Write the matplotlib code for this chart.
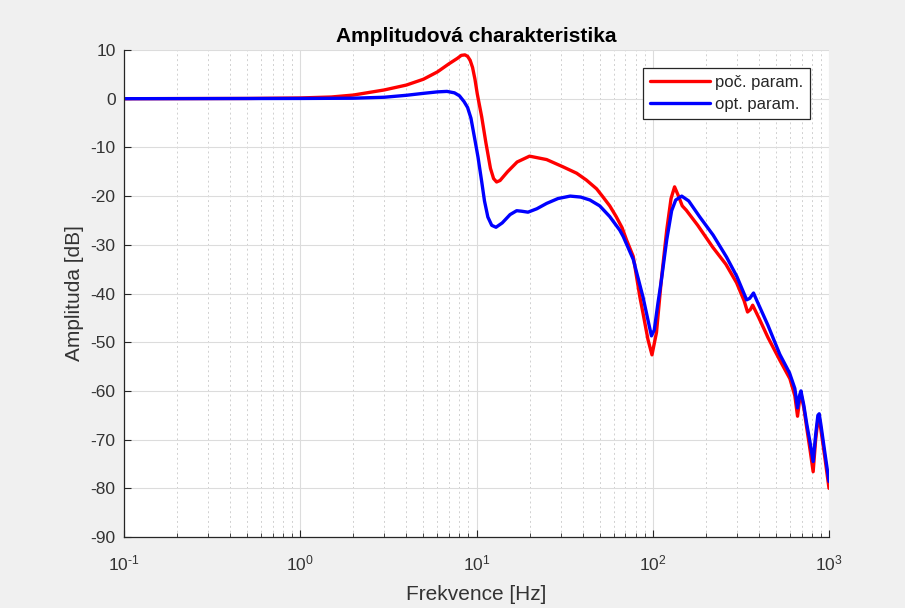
import matplotlib
matplotlib.use("Agg")
import matplotlib.pyplot as plt
import numpy as np
from matplotlib.ticker import LogLocator, FixedLocator, NullFormatter, FuncFormatter

plt.rcParams['font.family'] = ['Liberation Sans', 'DejaVu Sans']
plt.rcParams['mathtext.fontset'] = 'custom'
plt.rcParams['mathtext.rm'] = 'Liberation Sans'
plt.rcParams['mathtext.it'] = 'Liberation Sans'
plt.rcParams['mathtext.default'] = 'regular'
plt.rcParams['axes.unicode_minus'] = False

# ---- data ----
f_red = [0.1, 0.5, 1, 1.5, 2, 3, 4, 5, 6, 7, 7.8, 8.2, 8.6, 8.9, 9.2, 9.5, 9.8, 10.1, 10.7, 11.3,
         12, 12.5, 13, 13.6, 15, 17, 20, 25, 31, 37, 42, 48, 52, 57, 62, 67, 71, 77.5, 84.5, 88,
         94, 99, 105, 112, 120, 127, 133, 140, 147, 155, 180, 219, 260, 299, 330, 345, 358, 369,
         400, 450, 526, 600, 640, 663, 680, 693, 720, 747, 780, 813, 840, 865, 880, 900, 950, 1000]
db_red = [0, 0.05, 0.15, 0.35, 0.75, 1.8, 2.8, 4.0, 5.5, 7.2, 8.3, 8.9, 9.0, 8.7, 7.9, 6.4, 4.0,
          1.0, -3.7, -9, -14.3, -16.4, -17.1, -16.8, -15, -13, -11.8, -12.5, -14, -15.3, -16.7,
          -18.5, -20.1, -22, -24.2, -26.5, -29, -32.4, -40.7, -44, -49.5, -52.6, -48, -37, -27,
          -20.5, -18.1, -20, -22, -22.9, -26, -30.5, -34, -37.8, -41.5, -43.8, -43.3, -42.4, -45,
          -49, -53.7, -57.5, -61, -65.2, -62, -60.5, -63.5, -67.5, -72, -76.6, -70, -66, -65.5,
          -68, -74, -80]

f_blue = [0.1, 1, 2, 3, 4, 5, 6, 6.8, 7.5, 8, 8.5, 8.9, 9.3, 9.8, 10.2, 10.7, 11.1, 11.6, 12.2,
          12.9, 14, 15.5, 16.9, 18, 19.6, 22, 25, 29, 34, 39, 44, 50, 57, 65, 68, 77.5, 88, 94,
          98.3, 102, 107, 112, 120, 128, 135, 146, 160, 185, 220, 262, 300, 341, 355, 373, 390,
          450, 526, 597, 640, 663, 680, 693, 720, 747, 780, 813, 840, 865, 880, 900, 950, 1000]
db_blue = [0, 0.05, 0.1, 0.3, 0.7, 1.1, 1.4, 1.5, 1.2, 0.6, -0.6, -1.8, -4, -8.5, -12, -17, -21,
           -24.3, -26, -26.4, -25.5, -23.8, -23, -23.1, -23.3, -22.6, -21.5, -20.5, -20, -20.2,
           -20.8, -22, -24.2, -27, -28.3, -33, -40.7, -45.5, -48.7, -47.5, -42, -37.2, -29, -23,
           -20.8, -20, -21, -24.3, -28, -32.5, -36.5, -41.3, -41, -39.9, -41.5, -46.5, -52.5,
           -56.3, -59.5, -63.5, -61, -60, -63, -66.7, -70.5, -74.5, -69, -65, -64.7, -67, -73,
           -78.6]

labels = ['poč. param.', 'opt. param.']
title = 'Amplitudová charakteristika'
xlabel = 'Frekvence [Hz]'
ylabel = 'Amplituda [dB]'
yticks = list(range(-90, 11, 10))


def decade_label(v, pos):
    e = int(round(np.log10(v)))
    if e < 0:
        return r'$10^{\text{-}%d}$' % (-e)
    return r'$10^{%d}$' % e


fig = plt.figure(figsize=(9.05, 6.08), dpi=100, facecolor='#f0f0f0')
ax = fig.add_axes([124/905, 1-537/608, (829-124)/905, (537-50)/608])
ax.set_facecolor('white')

ax.semilogx(f_red, db_red, color='#ff0000', lw=2.4, label=labels[0],
            solid_joinstyle='round', solid_capstyle='round')
ax.semilogx(f_blue, db_blue, color='#0000ff', lw=2.4, label=labels[1],
            solid_joinstyle='round', solid_capstyle='round')

ax.set_xlim(0.1, 1000)
ax.set_ylim(-90, 10)
ax.yaxis.set_major_locator(FixedLocator(yticks))
ax.xaxis.set_major_locator(LogLocator(base=10, numticks=10))
ax.xaxis.set_major_formatter(FuncFormatter(decade_label))
ax.xaxis.set_minor_locator(LogLocator(base=10, subs=range(2, 10), numticks=20))
ax.xaxis.set_minor_formatter(NullFormatter())

ax.grid(True, which='major', color='#dcdcdc', lw=0.8, ls='-')
ax.grid(True, which='minor', axis='x', color='#d0d0d0', lw=0.7, ls=(0, (2, 3)))
ax.set_axisbelow(True)

for s in ['top', 'right']:
    ax.spines[s].set_visible(False)
for s in ['left', 'bottom']:
    ax.spines[s].set_color('#262626')
    ax.spines[s].set_linewidth(0.9)

ax.tick_params(which='both', direction='in', colors='#262626', labelsize=12.5,
               labelcolor='#333333')
ax.tick_params(which='major', length=5)
ax.tick_params(which='minor', length=3)
ax.tick_params(axis='x', pad=12)
ax.tick_params(axis='y', pad=6)

ax.set_title(title, fontsize=15, fontweight='bold', color='black', pad=6)
ax.set_xlabel(xlabel, fontsize=15, color='#333333', labelpad=8)
ax.set_ylabel(ylabel, fontsize=15, color='#333333', labelpad=5)

leg = ax.legend(loc='upper right', bbox_to_anchor=(0.973, 0.963), fontsize=12, frameon=True,
                fancybox=False, edgecolor='#262626', framealpha=1, handlelength=3.6,
                borderpad=0.42, labelspacing=0.4, handletextpad=0.3, borderaxespad=0.0)
leg.get_frame().set_linewidth(0.9)
for t in leg.get_texts():
    t.set_color('#262626')

fig.savefig('out.png', dpi=100, facecolor=fig.get_facecolor())
